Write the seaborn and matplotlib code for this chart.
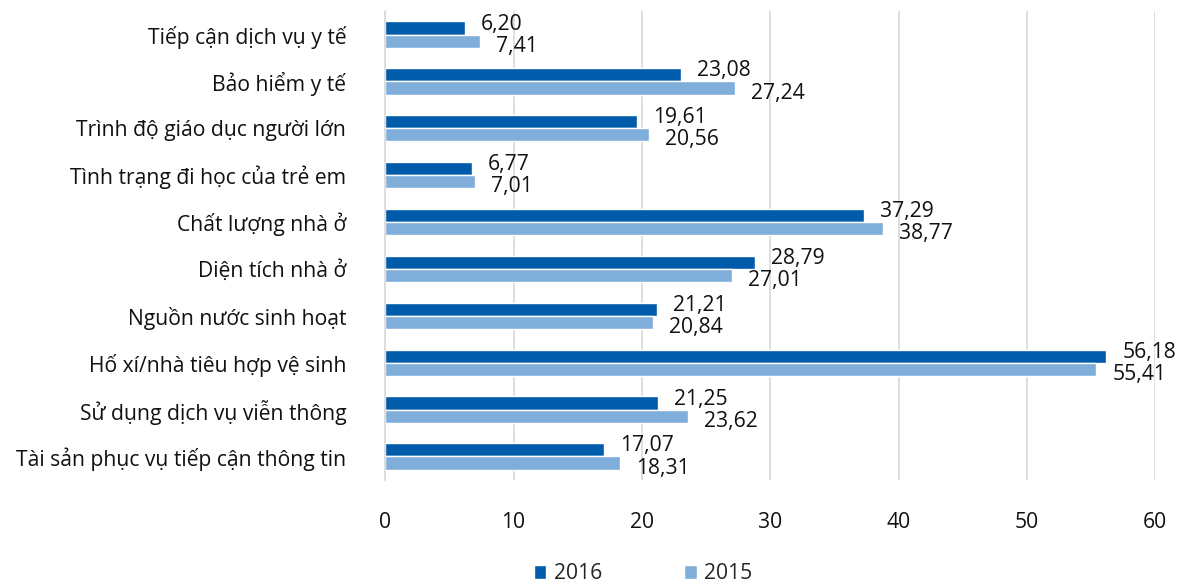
import matplotlib
matplotlib.use("Agg")
import matplotlib.pyplot as plt
import pandas as pd
import seaborn as sns

categories = [
    "Tiếp cận dịch vụ y tế",
    "Bảo hiểm y tế",
    "Trình độ giáo dục người lớn",
    "Tình trạng đi học của trẻ em",
    "Chất lượng nhà ở",
    "Diện tích nhà ở",
    "Nguồn nước sinh hoạt",
    "Hố xí/nhà tiêu hợp vệ sinh",
    "Sử dụng dịch vụ viễn thông",
    "Tài sản phục vụ tiếp cận thông tin",
]
values_2016 = [6.20, 23.08, 19.61, 6.77, 37.29, 28.79, 21.21, 56.18, 21.25, 17.07]
values_2015 = [7.41, 27.24, 20.56, 7.01, 38.77, 27.01, 20.84, 55.41, 23.62, 18.31]
years = ["2016", "2015"]
colors = ["#005BAA", "#7FAEDA"]

df = pd.DataFrame({
    "cat": categories * 2,
    "year": ["2016"] * len(categories) + ["2015"] * len(categories),
    "val": values_2016 + values_2015,
})

sns.set_theme(style="white")
plt.rcParams["font.family"] = ["Open Sans", "DejaVu Sans"]
FS = 15.2

fig = plt.figure(figsize=(11.85, 5.86), dpi=100)
ax = fig.add_axes([0.325, 0.181, 0.65, 0.800])

sns.barplot(data=df, y="cat", x="val", hue="year", hue_order=years,
            palette=colors, orient="h", width=0.56, ax=ax, saturation=1)

# labels next to bar ends, 2016 nudged up, 2015 nudged down
for cont, dy in zip(ax.containers, [4, -5]):
    for rect in cont:
        w = rect.get_width()
        yc = rect.get_y() + rect.get_height() / 2
        ax.annotate(f"{w:.2f}".replace(".", ","), xy=(w, yc),
                    xytext=(16, dy), textcoords="offset pixels",
                    ha="left", va="center", fontsize=FS, color="#111111")

ax.set_xlim(0, 60)
ax.set_xticks(range(0, 61, 10))
ax.set_ylim(9.5, -0.5)
ax.xaxis.grid(True, color="#D9D9D9", linewidth=1.2)
ax.set_axisbelow(True)
for s in ["top", "right", "bottom"]:
    ax.spines[s].set_visible(False)
ax.spines["left"].set_color("#D9D9D9")
ax.spines["left"].set_linewidth(1.2)
ax.set_xlabel("")
ax.set_ylabel("")
ax.tick_params(axis="both", length=0, labelsize=FS, colors="#111111")
ax.tick_params(axis="y", pad=28)
ax.tick_params(axis="x", pad=23)

ax.legend(loc="upper center", bbox_to_anchor=(0.335, -0.16), ncol=2,
          frameon=False, fontsize=FS, handlelength=0.6, handleheight=0.6,
          handletextpad=0.35, columnspacing=3.9, borderaxespad=0)

fig.savefig("out.png", dpi=100)
